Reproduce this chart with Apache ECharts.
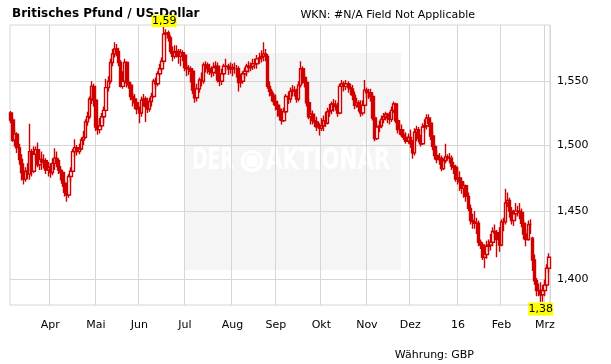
<!DOCTYPE html>
<html>
<head>
<meta charset="utf-8">
<script src="https://cdn.jsdelivr.net/npm/echarts@6/dist/echarts.min.js"></script>
<style>
html,body{margin:0;padding:0;background:#fff;}
#chart{width:611px;height:364px;}
</style>
</head>
<body>
<div id="chart"></div>
<script>
// OHLC per trading day as [open, close, low, high], GBP/USD
const mar15 = [
[1.5250,1.5195,1.5170,1.5265],[1.5195,1.5040,1.5025,1.5210],[1.5040,1.5085,1.4990,1.5120],[1.5085,1.4980,1.4940,1.5100],
[1.4980,1.4890,1.4850,1.5010],[1.4890,1.4790,1.4730,1.4930],[1.4790,1.4740,1.4700,1.4860],[1.4740,1.4800,1.4720,1.4830],
[1.4800,1.4780,1.4740,1.4860],[1.4780,1.4950,1.4735,1.5165],[1.4950,1.4800,1.4760,1.4970],[1.4800,1.4930,1.4785,1.4990],
[1.4930,1.4965,1.4880,1.4990],[1.4965,1.4850,1.4830,1.5020],[1.4850,1.4890,1.4810,1.4930],[1.4890,1.4870,1.4810,1.4950],
[1.4870,1.4880,1.4820,1.4930],[1.4880,1.4810,1.4780,1.4900],[1.4810,1.4830,1.4760,1.4870]
];
const apr15 = [
[1.4830,1.4790,1.4750,1.4860],[1.4790,1.4860,1.4770,1.4900],[1.4860,1.4900,1.4810,1.4975],[1.4900,1.4880,1.4830,1.4950],
[1.4880,1.4810,1.4780,1.4900],[1.4810,1.4790,1.4730,1.4840],[1.4790,1.4710,1.4680,1.4810],[1.4710,1.4640,1.4610,1.4730],
[1.4640,1.4620,1.4570,1.4680],[1.4620,1.4760,1.4600,1.4780],[1.4760,1.4800,1.4720,1.4830],[1.4800,1.4950,1.4790,1.4970],
[1.4950,1.4980,1.4910,1.5045],[1.4980,1.4950,1.4920,1.5000],[1.4950,1.4970,1.4930,1.5010],[1.4970,1.5040,1.4960,1.5060],
[1.5040,1.5060,1.5000,1.5110],[1.5060,1.5180,1.5050,1.5200],[1.5180,1.5220,1.5150,1.5260],[1.5220,1.5360,1.5200,1.5380],
[1.5360,1.5460,1.5320,1.5500],[1.5460,1.5350,1.5300,1.5480]
];
const may15 = [
[1.5350,1.5140,1.5110,1.5370],[1.5140,1.5120,1.5080,1.5200],[1.5120,1.5150,1.5090,1.5210],[1.5150,1.5220,1.5130,1.5250],
[1.5220,1.5270,1.5170,1.5300],[1.5270,1.5450,1.5260,1.5520],[1.5450,1.5500,1.5420,1.5540],[1.5500,1.5650,1.5480,1.5680],
[1.5650,1.5720,1.5620,1.5760],[1.5720,1.5760,1.5690,1.5815],[1.5760,1.5740,1.5700,1.5800],[1.5740,1.5650,1.5620,1.5770],
[1.5650,1.5460,1.5450,1.5670],[1.5460,1.5500,1.5440,1.5580],[1.5500,1.5650,1.5480,1.5680],[1.5650,1.5490,1.5450,1.5660],
[1.5490,1.5470,1.5440,1.5510],[1.5470,1.5380,1.5350,1.5490],[1.5380,1.5360,1.5300,1.5410],[1.5360,1.5330,1.5280,1.5400],
[1.5330,1.5280,1.5240,1.5350]
];
const jun15 = [
[1.5280,1.5250,1.5170,1.5300],[1.5250,1.5350,1.5220,1.5380],[1.5350,1.5360,1.5300,1.5400],[1.5360,1.5300,1.5180,1.5380],
[1.5300,1.5280,1.5250,1.5370],[1.5280,1.5340,1.5260,1.5370],[1.5340,1.5380,1.5300,1.5410],[1.5380,1.5500,1.5370,1.5520],
[1.5500,1.5480,1.5440,1.5530],[1.5480,1.5560,1.5460,1.5580],[1.5560,1.5600,1.5540,1.5640],[1.5600,1.5660,1.5580,1.5690],
[1.5660,1.5880,1.5640,1.5938],[1.5880,1.5890,1.5830,1.5920],[1.5890,1.5850,1.5820,1.5910],[1.5850,1.5740,1.5720,1.5870],
[1.5740,1.5700,1.5660,1.5780],[1.5700,1.5730,1.5680,1.5790],[1.5730,1.5740,1.5690,1.5790],[1.5740,1.5700,1.5640,1.5760],
[1.5700,1.5730,1.5620,1.5760],[1.5730,1.5710,1.5660,1.5750]
];
const jul15 = [
[1.5710,1.5610,1.5580,1.5720],[1.5610,1.5600,1.5540,1.5650],[1.5600,1.5600,1.5550,1.5630],[1.5600,1.5580,1.5490,1.5620],
[1.5580,1.5430,1.5400,1.5600],[1.5430,1.5370,1.5330,1.5460],[1.5370,1.5440,1.5340,1.5480],[1.5440,1.5510,1.5410,1.5530],
[1.5510,1.5500,1.5460,1.5570],[1.5500,1.5630,1.5480,1.5650],[1.5630,1.5630,1.5570,1.5660],[1.5630,1.5600,1.5560,1.5650],
[1.5600,1.5580,1.5550,1.5640],[1.5580,1.5570,1.5530,1.5620],[1.5570,1.5610,1.5540,1.5650],[1.5610,1.5620,1.5560,1.5660],
[1.5620,1.5510,1.5490,1.5650],[1.5510,1.5500,1.5460,1.5530],[1.5500,1.5560,1.5470,1.5600],[1.5560,1.5620,1.5540,1.5640],
[1.5620,1.5620,1.5580,1.5680],[1.5620,1.5600,1.5550,1.5640],[1.5600,1.5610,1.5560,1.5650]
];
const aug15 = [
[1.5610,1.5600,1.5540,1.5640],[1.5600,1.5600,1.5560,1.5650],[1.5600,1.5600,1.5530,1.5630],[1.5600,1.5490,1.5420,1.5620],
[1.5490,1.5500,1.5450,1.5560],[1.5500,1.5560,1.5480,1.5580],[1.5560,1.5580,1.5520,1.5610],[1.5580,1.5620,1.5540,1.5640],
[1.5620,1.5610,1.5570,1.5660],[1.5610,1.5620,1.5580,1.5650],[1.5620,1.5640,1.5590,1.5680],[1.5640,1.5640,1.5600,1.5680],
[1.5640,1.5680,1.5600,1.5710],[1.5680,1.5690,1.5640,1.5730],[1.5690,1.5700,1.5650,1.5750],[1.5700,1.5720,1.5660,1.5815],
[1.5720,1.5700,1.5660,1.5760],[1.5700,1.5460,1.5440,1.5720],[1.5460,1.5420,1.5380,1.5500],[1.5420,1.5390,1.5340,1.5440],
[1.5390,1.5340,1.5310,1.5410]
];
const sep15 = [
[1.5340,1.5310,1.5270,1.5380],[1.5310,1.5280,1.5220,1.5330],[1.5280,1.5230,1.5190,1.5310],[1.5230,1.5190,1.5160,1.5270],
[1.5190,1.5260,1.5180,1.5290],[1.5260,1.5380,1.5240,1.5400],[1.5380,1.5360,1.5320,1.5420],[1.5360,1.5420,1.5330,1.5450],
[1.5420,1.5430,1.5380,1.5470],[1.5430,1.5420,1.5380,1.5460],[1.5420,1.5360,1.5330,1.5440],[1.5360,1.5470,1.5340,1.5500],
[1.5470,1.5600,1.5450,1.5660],[1.5600,1.5530,1.5480,1.5620],[1.5530,1.5490,1.5450,1.5560],[1.5490,1.5330,1.5300,1.5510],
[1.5330,1.5220,1.5200,1.5360],[1.5220,1.5240,1.5160,1.5280],[1.5240,1.5190,1.5160,1.5270],[1.5190,1.5180,1.5140,1.5230],
[1.5180,1.5140,1.5110,1.5220],[1.5140,1.5130,1.5075,1.5170]
];
const oct15 = [
[1.5130,1.5150,1.5110,1.5210],[1.5150,1.5190,1.5110,1.5230],[1.5190,1.5170,1.5140,1.5260],[1.5170,1.5260,1.5160,1.5290],
[1.5260,1.5270,1.5220,1.5320],[1.5270,1.5320,1.5240,1.5340],[1.5320,1.5310,1.5260,1.5360],[1.5310,1.5300,1.5270,1.5350],
[1.5300,1.5250,1.5220,1.5330],[1.5250,1.5460,1.5240,1.5480],[1.5460,1.5480,1.5430,1.5510],[1.5480,1.5460,1.5420,1.5500],
[1.5460,1.5480,1.5430,1.5510],[1.5480,1.5450,1.5410,1.5500],[1.5450,1.5440,1.5390,1.5480],[1.5440,1.5390,1.5350,1.5470],
[1.5390,1.5310,1.5280,1.5420],[1.5310,1.5330,1.5290,1.5370],[1.5330,1.5300,1.5260,1.5350],[1.5300,1.5250,1.5220,1.5350],
[1.5250,1.5310,1.5230,1.5350],[1.5310,1.5430,1.5300,1.5510]
];
const nov15 = [
[1.5430,1.5410,1.5370,1.5450],[1.5410,1.5410,1.5360,1.5440],[1.5410,1.5380,1.5340,1.5440],[1.5380,1.5210,1.5190,1.5400],
[1.5210,1.5050,1.5030,1.5230],[1.5050,1.5140,1.5040,1.5160],[1.5140,1.5150,1.5100,1.5190],[1.5150,1.5200,1.5130,1.5230],
[1.5200,1.5220,1.5170,1.5250],[1.5220,1.5240,1.5190,1.5260],[1.5240,1.5210,1.5170,1.5250],[1.5210,1.5200,1.5160,1.5260],
[1.5200,1.5270,1.5180,1.5300],[1.5270,1.5320,1.5250,1.5340],[1.5320,1.5190,1.5170,1.5330],[1.5190,1.5120,1.5090,1.5210],
[1.5120,1.5120,1.5080,1.5170],[1.5120,1.5080,1.5060,1.5160],[1.5080,1.5060,1.5040,1.5120],[1.5060,1.5030,1.5010,1.5100],
[1.5030,1.5060,1.5010,1.5090]
];
const dec15 = [
[1.5060,1.5010,1.4980,1.5120],[1.5010,1.4940,1.4895,1.5040],[1.4940,1.5100,1.4920,1.5130],[1.5100,1.5120,1.5030,1.5150],
[1.5120,1.5050,1.5020,1.5140],[1.5050,1.5010,1.4990,1.5080],[1.5010,1.5140,1.5000,1.5170],[1.5140,1.5150,1.5100,1.5200],
[1.5150,1.5210,1.5120,1.5240],[1.5210,1.5170,1.5140,1.5240],[1.5170,1.5070,1.5040,1.5190],[1.5070,1.4990,1.4960,1.5110],
[1.4990,1.4920,1.4890,1.5010],[1.4920,1.4890,1.4860,1.4960],[1.4890,1.4900,1.4850,1.4940],[1.4900,1.4820,1.4800,1.4920],
[1.4820,1.4880,1.4810,1.4900],[1.4880,1.4910,1.4860,1.5010],[1.4910,1.4900,1.4880,1.4930],[1.4900,1.4900,1.4860,1.4940],
[1.4900,1.4840,1.4810,1.4920],[1.4840,1.4830,1.4780,1.4870],[1.4830,1.4740,1.4720,1.4850]
];
const jan16 = [
[1.4740,1.4750,1.4700,1.4830],[1.4750,1.4720,1.4650,1.4800],[1.4720,1.4670,1.4630,1.4740],[1.4670,1.4690,1.4600,1.4720],
[1.4690,1.4610,1.4570,1.4700],[1.4610,1.4520,1.4500,1.4640],[1.4520,1.4430,1.4400,1.4550],[1.4430,1.4420,1.4370,1.4480],
[1.4420,1.4410,1.4370,1.4500],[1.4410,1.4410,1.4330,1.4450],[1.4410,1.4270,1.4240,1.4430],[1.4270,1.4250,1.4220,1.4290],
[1.4250,1.4160,1.4140,1.4270],[1.4160,1.4180,1.4080,1.4210],[1.4180,1.4240,1.4150,1.4280],[1.4240,1.4250,1.4200,1.4290],
[1.4250,1.4270,1.4210,1.4330],[1.4270,1.4350,1.4240,1.4380],[1.4350,1.4340,1.4290,1.4400],[1.4340,1.4290,1.4160,1.4360],
[1.4290,1.4250,1.4200,1.4380]
];
const feb16 = [
[1.4250,1.4420,1.4240,1.4440],[1.4420,1.4420,1.4350,1.4450],[1.4420,1.4560,1.4400,1.4668],[1.4560,1.4580,1.4530,1.4640],
[1.4580,1.4500,1.4450,1.4600],[1.4500,1.4430,1.4400,1.4530],[1.4430,1.4480,1.4390,1.4510],[1.4480,1.4500,1.4440,1.4560],
[1.4500,1.4500,1.4460,1.4540],[1.4500,1.4490,1.4440,1.4560],[1.4490,1.4410,1.4380,1.4520],[1.4410,1.4330,1.4290,1.4440],
[1.4330,1.4290,1.4240,1.4370],[1.4290,1.4400,1.4280,1.4430],[1.4400,1.4400,1.4330,1.4440],[1.4300,1.4140,1.4060,1.4310],
[1.4140,1.3990,1.3960,1.4180],[1.3990,1.3920,1.3880,1.4010],[1.3920,1.3920,1.3880,1.3970],[1.3920,1.3890,1.3838,1.3980],
[1.3890,1.3920,1.3840,1.3960]
];
const mar16 = [
[1.3920,1.3960,1.3880,1.4000],[1.3960,1.4080,1.3940,1.4110],[1.4080,1.4160,1.4050,1.4190]
];

const firstDay = '2015-03-05';
const lastDay = '2016-03-03';
const yTicks = [1.40, 1.45, 1.50, 1.55];
const yMin = 1.3817, yMax = 1.5955;
const monthNames = ['16','Feb','Mrz','Apr','Mai','Jun','Jul','Aug','Sep','Okt','Nov','Dez'];

const ohlc = [].concat(mar15, apr15, may15, jun15, jul15, aug15, sep15, oct15, nov15, dec15, jan16, feb16, mar16);

// trading days (Mon-Fri)
const dates = [];
(function(){
  const d = new Date(firstDay + 'T00:00:00Z');
  const end = new Date(lastDay + 'T00:00:00Z');
  while (d <= end) {
    const wd = d.getUTCDay();
    if (wd !== 0 && wd !== 6) dates.push(d.toISOString().slice(0,10));
    d.setUTCDate(d.getUTCDate()+1);
  }
})();

const monthStart = new Set();
for (let i = 1; i < dates.length; i++) {
  if (dates[i].slice(5,7) !== dates[i-1].slice(5,7)) monthStart.add(i);
}

let maxIdx = 0, minIdx = 0;
ohlc.forEach((d, i) => {
  if (d[3] > ohlc[maxIdx][3]) maxIdx = i;
  if (d[2] < ohlc[minIdx][2]) minIdx = i;
});

const RED = '#d00000';
const FONT = '"DejaVu Sans", Verdana, sans-serif';
const fmt2 = v => v.toFixed(2).replace('.', ',');

const chart = echarts.init(document.getElementById('chart'), null, {renderer: 'canvas'});
chart.setOption({
  animation: false,
  backgroundColor: '#ffffff',
  grid: { left: 10, top: 25, right: 61, bottom: 59, show: true, borderColor: '#d6d6d6', borderWidth: 1, backgroundColor: 'transparent' },
  graphic: [
    { type: 'rect', z: -10, shape: { x: 184, y: 53, width: 217, height: 217 }, style: { fill: '#f5f5f5' } },
    { type: 'text', z: -9, x: 192, y: 161, scaleX: 0.62, style: { text: 'DER', fill: '#ffffff', font: 'bold 30px ' + FONT, textVerticalAlign: 'middle' } },
    { type: 'circle', z: -9, shape: { cx: 252, cy: 161, r: 11 }, style: { fill: '#ffffff' } },
    { type: 'circle', z: -9, shape: { cx: 252, cy: 161, r: 7 }, style: { fill: 'none', stroke: '#f0f0f0', lineWidth: 1 } },
    { type: 'text', z: -9, x: 266, y: 161, scaleX: 0.71, style: { text: 'AKTIONÄR', fill: '#ffffff', font: 'bold 30px ' + FONT, textVerticalAlign: 'middle' } },
    { type: 'text', x: 12, y: 14, style: { text: 'Britisches Pfund / US-Dollar', fill: '#000', font: 'bold 12px ' + FONT, textVerticalAlign: 'middle' } },
    { type: 'text', x: 475, y: 15, style: { text: 'WKN: #N/A Field Not Applicable', fill: '#000', font: '11px ' + FONT, textAlign: 'right', textVerticalAlign: 'middle' } },
    { type: 'text', x: 474, y: 355, style: { text: 'Währung: GBP', fill: '#000', font: '11px ' + FONT, textAlign: 'right', textVerticalAlign: 'middle' } }
  ],
  xAxis: {
    type: 'category',
    data: dates,
    boundaryGap: true,
    axisLine: { show: false },
    axisTick: { show: false },
    axisLabel: {
      interval: (i) => monthStart.has(i),
      formatter: (v) => monthNames[parseInt(v.slice(5,7), 10) - 1],
      color: '#000', fontSize: 11, fontFamily: FONT, margin: 15
    },
    splitLine: { show: true, interval: (i) => monthStart.has(i), lineStyle: { color: '#d6d6d6', width: 1 } }
  },
  yAxis: {
    type: 'log',
    min: yMin, max: yMax,
    position: 'right',
    axisLine: { show: false },
    axisTick: { show: false, customValues: yTicks },
    axisLabel: {
      customValues: yTicks,
      formatter: (v) => Number(v).toFixed(3).replace('.', ','),
      color: '#000', fontSize: 11, fontFamily: FONT, margin: 7
    },
    splitLine: { show: true, lineStyle: { color: '#d6d6d6', width: 1 } }
  },
  series: [{
    type: 'candlestick',
    data: ohlc,
    barWidth: 3,
    silent: true,
    itemStyle: { color: '#ffffff', color0: RED, borderColor: RED, borderColor0: RED, borderWidth: 1.4 },
    markPoint: {
      silent: true,
      data: [
        { coord: [dates[maxIdx], ohlc[maxIdx][3]], value: ohlc[maxIdx][3], symbol: 'rect', symbolSize: [25, 12], symbolOffset: [0, -6],
          itemStyle: { color: '#ffff00' },
          label: { show: true, position: 'inside', formatter: () => fmt2(ohlc[maxIdx][3]), color: '#000', fontSize: 11, fontFamily: FONT } },
        { coord: [dates[minIdx], ohlc[minIdx][2]], value: ohlc[minIdx][2], symbol: 'rect', symbolSize: [25, 13], symbolOffset: [0, 7],
          itemStyle: { color: '#ffff00' },
          label: { show: true, position: 'inside', formatter: () => fmt2(ohlc[minIdx][2]), color: '#000', fontSize: 11, fontFamily: FONT } }
      ]
    }
  }]
});
</script>
</body>
</html>
